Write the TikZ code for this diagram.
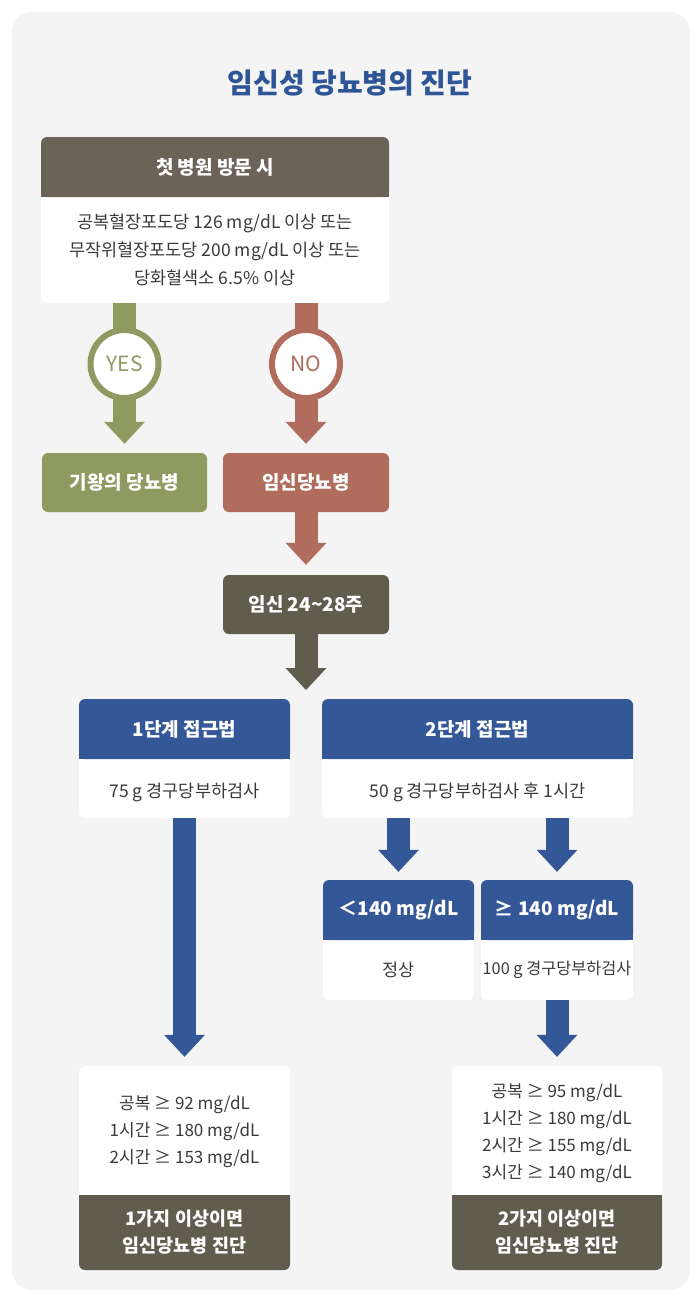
\documentclass[tikz,border=0pt]{standalone}
\usepackage{fontspec}
\setmainfont{Noto Sans CJK KR}
\usetikzlibrary{arrows.meta,calc}
\definecolor{bg}{HTML}{F4F4F4}
\definecolor{ctitle}{HTML}{2E5596}
\definecolor{cbrown}{HTML}{6B6258}
\definecolor{cgreen}{HTML}{8E9A5F}
\definecolor{cred}{HTML}{B06C5C}
\definecolor{colive}{HTML}{615D4E}
\definecolor{cblue}{HTML}{345797}
\definecolor{ctext}{HTML}{3A3A3A}
\begin{document}
\begin{tikzpicture}[x=1pt,y=-1pt,
  panel/.style={fill=white, rounded corners=6pt, inner sep=0pt},
  hdr/.style={rounded corners=6pt, inner sep=0pt, text=white, font=\fontsize{19}{22}\selectfont\bfseries},
  txt/.style={font=\fontsize{17.5}{28}\selectfont, text=ctext, align=center, inner sep=0pt},
  foot/.style={rounded corners=6pt, inner sep=0pt, text=white, align=center, fill=colive, font=\fontsize{18.5}{27}\selectfont\bfseries},
  ring/.style={circle, draw=#1, line width=6pt, fill=white, minimum size=68pt, inner sep=0pt, text=#1, font=\fontsize{21}{22}\selectfont},
  barrow/.style={draw=#1, line width=23pt, -{Triangle[width=41pt,length=22pt,line width=0pt]}}
]
\useasboundingbox (0,0) rectangle (700,1299);
\fill[white] (0,0) rectangle (700,1299);
\fill[bg, rounded corners=20pt] (12,12) rectangle (690,1290);

% title
\node[font=\fontsize{28}{32}\selectfont\bfseries, text=ctitle] (title) at (350,83) {임신성 당뇨병의 진단};

% first visit box
\node[panel, minimum width=348pt, minimum height=166pt] (firstbox) at (215,220) {};
\node[hdr, fill=cbrown, minimum width=348pt, minimum height=60pt] (first) at (215,167) {첫 병원 방문 시};
\fill[cbrown] ($(first.south west)+(0,-8)$) rectangle (first.south east);
\node[txt] (firsttxt) at (215,250) {공복혈장포도당 126 mg/dL 이상 또는\\무작위혈장포도당 200 mg/dL 이상 또는\\당화혈색소 6.5\% 이상};

% yes / no results
\node[hdr, fill=cgreen, minimum width=165pt, minimum height=59pt] (kw) at (124.5,482.5) {기왕의 당뇨병};
\node[hdr, fill=cred, minimum width=166pt, minimum height=59pt] (gd) at (306,482.5) {임신당뇨병};
\node[hdr, fill=colive, minimum width=166pt, minimum height=59pt] (w24) at (306,604.5) {임신 24\textasciitilde 28주};

\draw[barrow=cgreen, shorten >=9pt] (firstbox.south -| kw.north) -- (kw.north);
\draw[barrow=cred, shorten >=9pt] (firstbox.south -| gd.north) -- (gd.north);
\node[ring=cgreen] (yes) at (124.5,364) {YES};
\node[ring=cred] (no) at (306,364) {NO};

\draw[barrow=cred, shorten >=10pt] (gd.south) -- (w24.north);
\coordinate (split) at (306,690);
\draw[barrow=colive] (w24.south) -- (split);

% step 1
\node[panel, minimum width=211pt, minimum height=119pt] (s1box) at (184.5,758.5) {};
\node[hdr, fill=cblue, minimum width=211pt, minimum height=60pt] (s1) at (184.5,729) {1단계 접근법};
\fill[cblue] ($(s1.south west)+(0,-8)$) rectangle (s1.south east);
\node[txt] (s1txt) at (184.5,792) {75 g 경구당부하검사};

% step 2
\node[panel, minimum width=311pt, minimum height=119pt] (s2box) at (477.5,758.5) {};
\node[hdr, fill=cblue, minimum width=311pt, minimum height=60pt] (s2) at (477.5,729) {2단계 접근법};
\fill[cblue] ($(s2.south west)+(0,-8)$) rectangle (s2.south east);
\node[txt] (s2txt) at (477.5,792) {50 g 경구당부하검사 후 1시간};

% <140
\node[panel, minimum width=151pt, minimum height=120pt] (ltbox) at (398.5,940) {};
\node[hdr, fill=cblue, minimum width=151pt, minimum height=60pt] (lt) at (398.5,910) {＜140 mg/dL};
\fill[cblue] ($(lt.south west)+(0,-8)$) rectangle (lt.south east);
\node[txt] (lttxt) at (398.5,970) {정상};

% >=140
\node[panel, minimum width=152pt, minimum height=120pt] (gebox) at (557,940) {};
\node[hdr, fill=cblue, minimum width=152pt, minimum height=60pt] (ge) at (557,910) {≥ 140 mg/dL};
\fill[cblue] ($(ge.south west)+(0,-8)$) rectangle (ge.south east);
\node[txt, font=\fontsize{16.3}{28}\selectfont] (getxt) at (557,970) {100 g 경구당부하검사};

\draw[barrow=cblue, shorten >=8pt] (s2box.south -| lt.north) -- (lt.north);
\draw[barrow=cblue, shorten >=8pt] (s2box.south -| ge.north) -- (ge.north);

% bottom left result
\node[panel, minimum width=211pt, minimum height=204pt] (r1box) at (184.5,1168) {};
\node[foot, minimum width=211pt, minimum height=75pt] (r1) at (184.5,1232.5) {1가지 이상이면\\임신당뇨병 진단};
\fill[colive] (r1.north west) rectangle ($(r1.north east)+(0,8)$);
\node[txt, font=\fontsize{17}{27}\selectfont] (r1txt) at (184.5,1132) {공복 ≥ 92 mg/dL\\1시간 ≥ 180 mg/dL\\2시간 ≥ 153 mg/dL};

% bottom right result
\node[panel, minimum width=210pt, minimum height=204pt] (r2box) at (557,1168) {};
\node[foot, minimum width=210pt, minimum height=75pt] (r2) at (557,1232.5) {2가지 이상이면\\임신당뇨병 진단};
\fill[colive] (r2.north west) rectangle ($(r2.north east)+(0,8)$);
\node[txt, font=\fontsize{17}{27}\selectfont] (r2txt) at (557,1133.5) {공복 ≥ 95 mg/dL\\1시간 ≥ 180 mg/dL\\2시간 ≥ 155 mg/dL\\3시간 ≥ 140 mg/dL};

\draw[barrow=cblue, shorten >=9pt] (s1box.south) -- (r1box.north);
\draw[barrow=cblue, shorten >=9pt] (gebox.south) -- (r2box.north);
\end{tikzpicture}
\end{document}
